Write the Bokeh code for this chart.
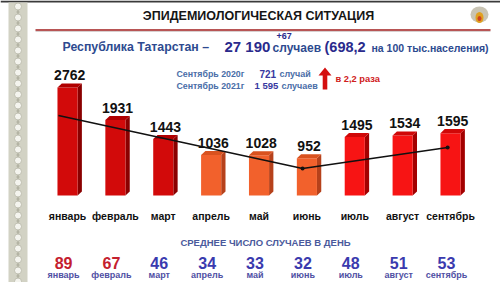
from bokeh.plotting import figure
from bokeh.models import Range1d
from bokeh.embed import file_html
from bokeh.resources import INLINE
from bokeh.core.properties import value

# ---------------- data ----------------
months = ["январь", "февраль", "март", "апрель", "май", "июнь", "июль", "август", "сентябрь"]
cases = [2762, 1931, 1443, 1036, 1028, 952, 1495, 1534, 1595]
daily = [89, 67, 46, 34, 33, 32, 48, 51, 53]
bar_colors = ["#d20a0a"] * 3 + ["#f2612c"] * 3 + ["#f71414"] * 3
side_colors = ["#8a0000"] * 3 + ["#b6411b"] * 3 + ["#a30000"] * 3
top_colors = ["#b00000"] * 3 + ["#d9521f"] * 3 + ["#d00808"] * 3
daily_colors = ["#c4202e"] * 2 + ["#3a3aae"] * 7
trend_x = [-0.19, 4.91, 7.94]
trend_y = [2046, 690, 1228]

FONT = value("Liberation Sans")

p = figure(width=500, height=282, x_range=Range1d(-1.4, 9.044), y_range=Range1d(-2225, 4987),
           output_backend="svg", toolbar_location=None, min_border=0,
           x_axis_type=None, y_axis_type=None)
p.grid.visible = False
p.outline_line_color = None
p.background_fill_color = "white"
p.border_fill_color = "white"
p.extra_x_ranges = {"px": Range1d(0, 500)}
p.extra_y_ranges = {"py": Range1d(282, 0)}


def txt(x, y, s, size, color, align="left", style="bold", xr="px", yr="py", baseline="middle"):
    p.text(x=[x], y=[y], text=[s], x_range_name=xr, y_range_name=yr,
           text_font=FONT, text_font_size=f"{size}px", text_font_style=style,
           text_color=color, text_align=align, text_baseline=baseline)


# ---------------- decorations ----------------
p.quad(left=[0], right=[500], top=[0], bottom=[2], x_range_name="px", y_range_name="py",
       fill_color="#3a3a3a", line_color=None)
p.quad(left=[8], right=[27], top=[2], bottom=[282], x_range_name="px", y_range_name="py",
       fill_color="#d2d2c4", line_color=None)
ys = list(range(6, 282, 11))
p.scatter(x=[17.5] * len(ys), y=ys, x_range_name="px", y_range_name="py", marker="circle",
          size=7, fill_color="#f4f4ee", line_color="#b8b8a8", line_width=0.8)
p.scatter(x=[17.5] * len(ys), y=[y + 5.5 for y in ys], x_range_name="px", y_range_name="py",
          marker="diamond", size=5, fill_color="#b4b4a4", line_color=None)

# emblem
p.ellipse(x=[479], y=[14], width=[18], height=[16], x_range_name="px", y_range_name="py",
          fill_color="#c9c4b4", line_color=None)
p.ellipse(x=[479], y=[17], width=[8], height=[11], x_range_name="px", y_range_name="py",
          fill_color="#e0a020", line_color=None)
p.ellipse(x=[479], y=[18], width=[4], height=[5], x_range_name="px", y_range_name="py",
          fill_color="#d04020", line_color=None)

# title
txt(258, 15, "ЭПИДЕМИОЛОГИЧЕСКАЯ СИТУАЦИЯ", 12.5, "#151515", align="center")
p.line(x=[35, 490], y=[29.5, 29.5], x_range_name="px", y_range_name="py",
       line_color="#a01c1c", line_width=1.6)
p.line(x=[35, 490], y=[31, 31], x_range_name="px", y_range_name="py",
       line_color="#d8d0d0", line_width=1)

# subtitle
NAVY = "#2d4a8f"
DEEP = "#2a2a8c"
txt(62, 46, "Республика Татарстан –", 12.3, NAVY)
txt(224, 46, "27 190", 15, DEEP)
txt(276, 35, "+67", 9, DEEP)
txt(272, 47, "случаев", 12, NAVY)
txt(324, 46, "(698,2", 14.5, DEEP)
txt(371, 47, "на 100 тыс.населения)", 10.5, NAVY)

# info box
STEEL = "#4a6ea8"
PURP = "#3838a0"
txt(176, 73, "Сентябрь 2020г", 8.8, STEEL)
txt(259, 73, "721", 10, PURP)
txt(279, 73, "случай", 9, STEEL)
txt(176, 85, "Сентябрь 2021г", 8.8, STEEL)
txt(254, 85, "1 595", 9.5, PURP)
txt(281, 85, "случаев", 9, STEEL)
p.patch(x=[322.2, 326.8, 326.8, 331, 324.5, 318, 322.2], y=[89, 89, 75, 75, 67, 75, 75],
        x_range_name="px", y_range_name="py", fill_color="#d40f0f", line_color=None)
txt(335, 78, "в 2,2 раза", 9.3, "#d02020")

# ---------------- bars (3D look) ----------------
w = 0.42
dx = 0.09
dy = 105
n = len(cases)
xs = list(range(n))
side_x, side_y, top_x, top_y = [], [], [], []
for i, v in zip(xs, cases):
    r = i + w / 2
    l = i - w / 2
    side_x.append([r, r + dx, r + dx, r])
    side_y.append([0, dy, v + dy, v])
    top_x.append([l, l + dx, r + dx, r])
    top_y.append([v, v + dy, v + dy, v])
p.patches(xs=side_x, ys=side_y, fill_color=side_colors, line_color=None)
p.vbar(x=xs, top=cases, bottom=0, width=w, fill_color=bar_colors, line_color=None)
p.patches(xs=top_x, ys=top_y, fill_color=top_colors, line_color=None)

# value labels
p.text(x=[i + dx / 2 for i in xs], y=[v + dy for v in cases], text=[str(v) for v in cases],
       text_font=FONT, text_font_size="14px", text_font_style="bold", text_color="#111111",
       text_align="center", text_baseline="alphabetic", y_offset=-8)

# trend line
p.line(x=trend_x, y=trend_y, line_color="#111111", line_width=1.6)
p.scatter(x=trend_x[1:], y=trend_y[1:], size=4, marker="circle", fill_color="#111111", line_color=None)

# month labels under bars
p.text(x=xs, y=[215] * n, y_range_name="py", text=months, text_font=FONT, text_font_size="10.5px",
       text_font_style="bold", text_color="#111111", text_align="center", text_baseline="middle")

# ---------------- bottom block ----------------
txt(265, 242, "СРЕДНЕЕ ЧИСЛО СЛУЧАЕВ В ДЕНЬ", 9.5, "#4a5a9c", align="center")
p.text(x=xs, y=[262] * n, y_range_name="py", text=[str(d) for d in daily], text_font=FONT,
       text_font_size="16px", text_font_style="bold", text_color=daily_colors,
       text_align="center", text_baseline="middle", x_offset=-4)
p.text(x=xs, y=[274.5] * n, y_range_name="py", text=months, text_font=FONT, text_font_size="9px",
       text_font_style="bold", text_color="#5050a4", text_align="center", text_baseline="middle",
       x_offset=-4)

open("out.html", "w").write(file_html(p, INLINE))
